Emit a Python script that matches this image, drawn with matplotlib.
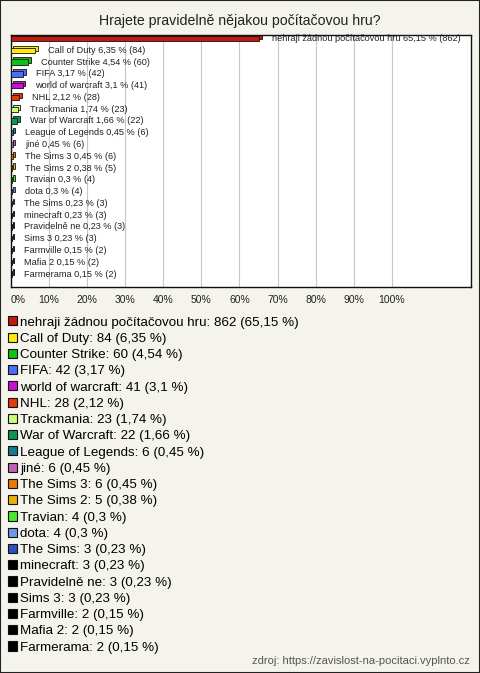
import matplotlib
matplotlib.use("Agg")
from matplotlib import pyplot as plt
from matplotlib.patches import Patch, Rectangle
from matplotlib.transforms import offset_copy

plt.rcParams['font.family'] = ['Liberation Sans', 'DejaVu Sans']

TITLE = "Hrajete pravidelně nějakou počítačovou hru?"
SOURCE = "zdroj: https://zavislost-na-pocitaci.vyplnto.cz"

games = ["nehraji žádnou počítačovou hru", "Call of Duty", "Counter Strike", "FIFA",
         "world of warcraft", "NHL", "Trackmania", "War of Warcraft", "League of Legends",
         "jiné", "The Sims 3", "The Sims 2", "Travian", "dota", "The Sims", "minecraft",
         "Pravidelně ne", "Sims 3", "Farmville", "Mafia 2", "Farmerama"]
counts = [862, 84, 60, 42, 41, 28, 23, 22, 6, 6, 6, 5, 4, 4, 3, 3, 3, 3, 2, 2, 2]
percents = [65.15, 6.35, 4.54, 3.17, 3.1, 2.12, 1.74, 1.66, 0.45, 0.45, 0.45, 0.38,
            0.3, 0.3, 0.23, 0.23, 0.23, 0.23, 0.15, 0.15, 0.15]
colors = ["#c01a0c", "#ffe80a", "#12c012", "#4a6ef0", "#c812d2", "#e23c0a",
          "#c8ff78", "#0e9655", "#1a7890", "#c060b8", "#e87a0c", "#e8b00a",
          "#4ce630", "#6a9ae6", "#2a54b8", "#000000", "#000000", "#000000",
          "#000000", "#000000", "#000000"]
xticks = [0, 10, 20, 30, 40, 50, 60, 70, 80, 90, 100]


def fmt(v):
    return ("%g" % v).replace(".", ",")


fig = plt.figure(figsize=(4.8, 6.73), dpi=100, facecolor="#f4f3ec")
fig.patches.append(Rectangle((0, 0), 1, 1, transform=fig.transFigure, fill=False,
                             edgecolor="#222222", linewidth=1.5))

ax = fig.add_axes([0.0229, 0.5735, 0.9583, 0.3745])
ax.set_facecolor("white")

ypos = list(range(len(games)))
depth = offset_copy(ax.transData, fig=fig, x=2.5, y=2.0, units="dots")
ax.barh(ypos, percents, height=0.45, color=colors, edgecolor="#111111",
        linewidth=0.6, transform=depth, zorder=2)
ax.barh(ypos, percents, height=0.45, color=colors, edgecolor="#111111",
        linewidth=0.6, zorder=3)

for y, g, p, c in zip(ypos, games, percents, counts):
    ax.annotate("%s %s %% (%d)" % (g, fmt(p), c), (p, y), xytext=(9, 0),
                textcoords="offset points", va="center", ha="left",
                fontsize=6.6, color="#222222", zorder=4)

ax.set_xlim(0, 120.8)
ax.set_ylim(len(games) - 0.5 + 0.6, -0.5 + 0.2)
ax.set_yticks([])
ax.set_xticks(xticks)
ax.set_xticklabels(["%d%%" % t for t in xticks], fontsize=7.5, color="#222222")
ax.xaxis.get_majorticklabels()[0].set_horizontalalignment("left")
ax.tick_params(axis="x", length=0, pad=6)
ax.grid(axis="x", color="#c8c8c8", linewidth=0.8, zorder=0)
ax.set_axisbelow(True)
for s in ax.spines.values():
    s.set_color("#111111")
    s.set_linewidth(1.0)

fig.text(0.5, 0.969, TITLE, ha="center", va="center", fontsize=10.2, color="#222222")

handles = [Patch(facecolor=c, edgecolor="#111111", linewidth=0.8) for c in colors]
labels = ["%s: %d (%s %%)" % (g, c, fmt(p)) for g, c, p in zip(games, counts, percents)]
fig.legend(handles, labels, loc="upper left", bbox_to_anchor=(0.016, 0.530),
           frameon=False, fontsize=9.6, handlelength=0.68, handleheight=0.68,
           handletextpad=0.25, labelspacing=0.30, borderaxespad=0, borderpad=0)

fig.text(0.979, 0.018, SOURCE, ha="right", va="center", fontsize=8, color="#555555")

fig.savefig("out.png", dpi=100, facecolor=fig.get_facecolor())
